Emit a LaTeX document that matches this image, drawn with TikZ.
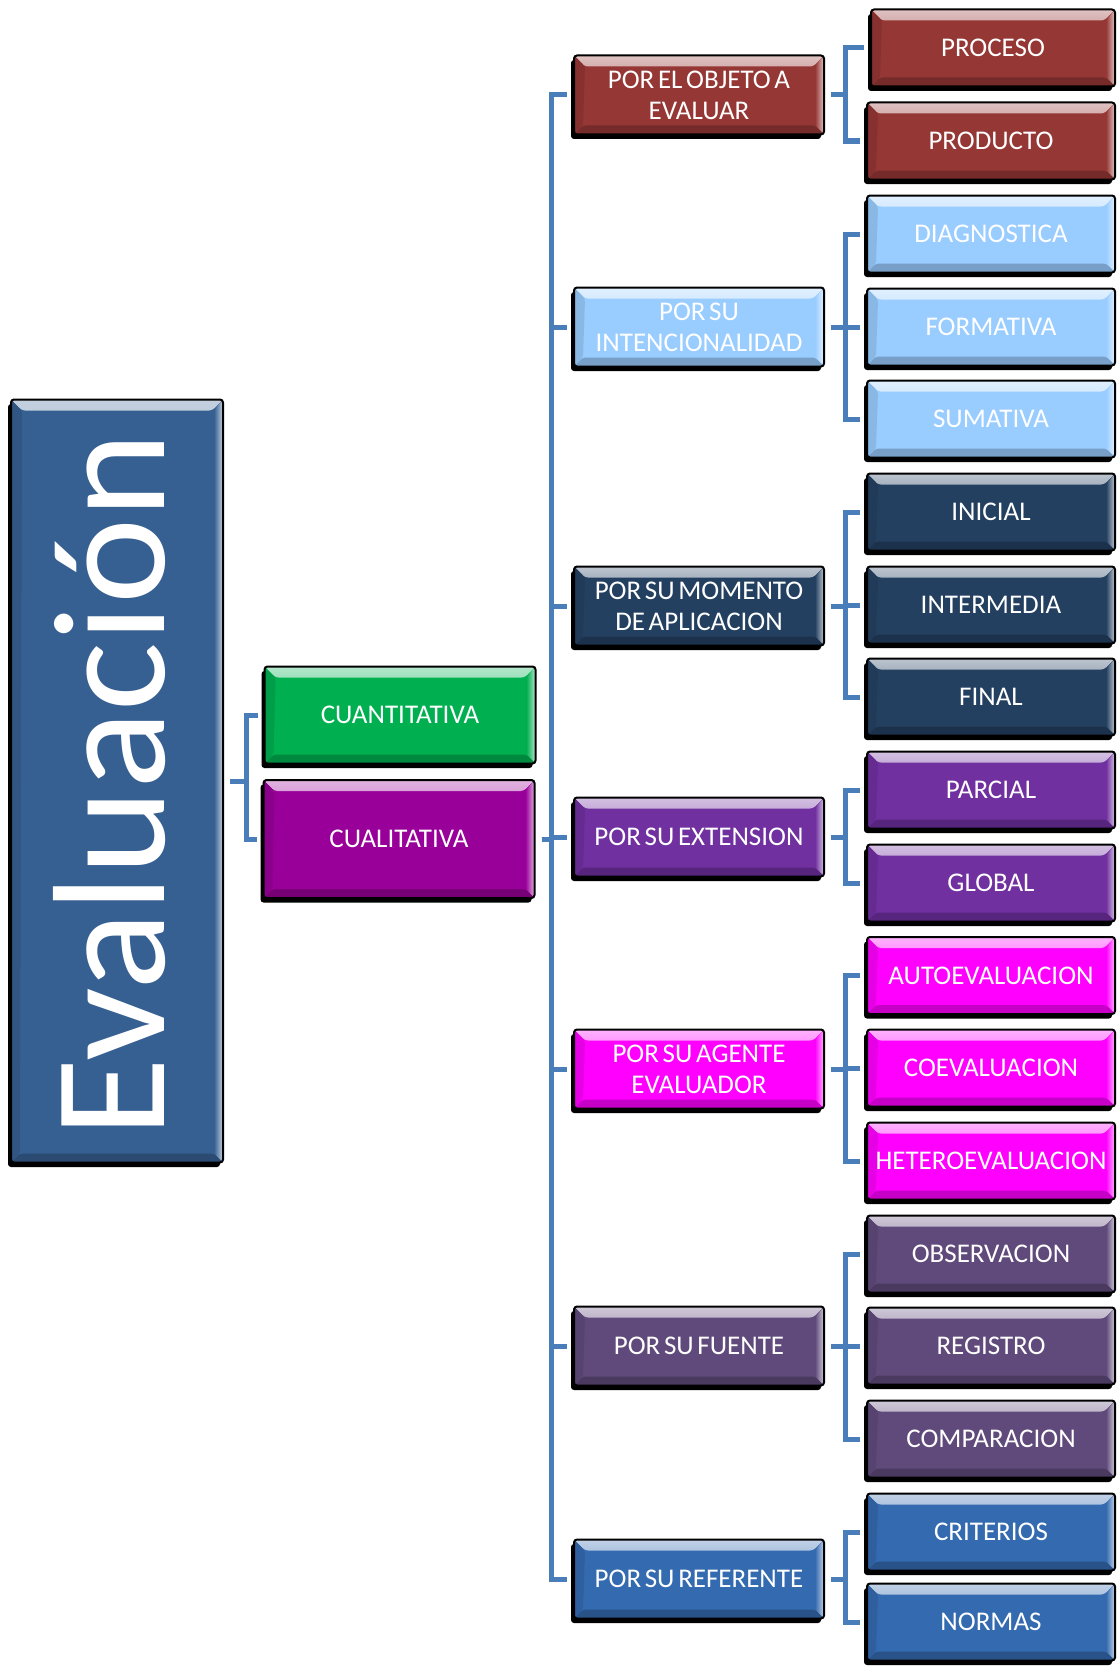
\documentclass[tikz,border=0pt]{standalone}
\usepackage{fontspec}
\usetikzlibrary{shadows}
\newfontfamily\boxfont[WordSpace=0.6]{Carlito}
\newfontfamily\bigfont[FakeStretch=1.02]{Carlito}
\definecolor{linkblue}{RGB}{74,126,187}
\definecolor{cEval}{RGB}{55,96,146}
\definecolor{cGreen}{RGB}{0,176,80}
\definecolor{cCual}{RGB}{153,0,153}
\definecolor{cRed}{RGB}{149,55,53}
\definecolor{cLight}{RGB}{153,204,255}
\definecolor{cNavy}{RGB}{36,64,97}
\definecolor{cPurple}{RGB}{112,48,160}
\definecolor{cMag}{RGB}{255,0,255}
\definecolor{cGrape}{RGB}{96,74,123}
\definecolor{cBlue}{RGB}{52,106,175}
\tikzset{
  bevel/.style={path picture={
    \shade[top color=#1!30!white, bottom color=#1]
      (path picture bounding box.north west) -- (path picture bounding box.north east)
      -- ([xshift=-11pt,yshift=-11pt]path picture bounding box.north east)
      -- ([xshift=11pt,yshift=-11pt]path picture bounding box.north west) -- cycle;
    \shade[left color=#1, right color=#1!30!white]
      (path picture bounding box.north east) -- (path picture bounding box.south east)
      -- ([xshift=-9pt,yshift=9pt]path picture bounding box.south east)
      -- ([xshift=-9pt,yshift=-11pt]path picture bounding box.north east) -- cycle;
    \fill[#1!78!black]
      (path picture bounding box.south west) -- (path picture bounding box.south east)
      -- ([xshift=-9pt,yshift=9pt]path picture bounding box.south east)
      -- ([xshift=9pt,yshift=9pt]path picture bounding box.south west) -- cycle;
    \fill[#1!90!black]
      (path picture bounding box.south west) -- (path picture bounding box.north west)
      -- ([xshift=11pt,yshift=-11pt]path picture bounding box.north west)
      -- ([xshift=9pt,yshift=9pt]path picture bounding box.south west) -- cycle;
  }},
  box/.style={draw=black, line width=2pt, rounded corners=3pt, fill=#1, bevel=#1,
    text=white, align=center, inner sep=0pt,
    font={\boxfont\fontsize{27pt}{31pt}\selectfont},
    drop shadow={shadow xshift=-3pt, shadow yshift=-4.5pt, fill=black, opacity=1}},
  rbox/.style={box=#1, minimum width=248pt, minimum height=77pt},
  mbox/.style={box=#1, minimum width=250pt, minimum height=79pt},
  link/.style={draw=linkblue, line width=5pt, shorten <=6pt, shorten >=6pt},
}
\begin{document}
\begin{tikzpicture}[x=1pt,y=-1pt]
\fill[white] (0,0) rectangle (1119,1667);
\useasboundingbox (0,0) rectangle (1119,1667);

% root
\node[box=cEval, minimum width=212pt, minimum height=763pt] (eval) at (117,781) {};
\node[rotate=90, anchor=base west, inner sep=0pt, text=white,
      font={\bigfont\fontsize{160pt}{160pt}\selectfont}] (evaltext) at (164,1138) {Evaluación};

% second level
\node[box=cGreen, minimum width=271pt, minimum height=97pt] (cuan) at (400,715) {CUANTITATIVA};
\node[box=cCual, minimum width=271pt, minimum height=118pt] (cual) at (399,839) {CUALITATIVA};

% third level
\node[mbox=cRed]    (objeto)    at (699,95)   {POR EL OBJETO A\\EVALUAR};
\node[mbox=cLight]  (intenc)    at (699,327)  {POR SU\\INTENCIONALIDAD};
\node[mbox=cNavy]   (momento)   at (699,606)  {POR SU MOMENTO\\DE APLICACION};
\node[mbox=cPurple] (extension) at (699,837)  {POR SU EXTENSION};
\node[mbox=cMag]    (agente)    at (699,1069) {POR SU AGENTE\\EVALUADOR};
\node[mbox=cGrape]  (fuente)    at (699,1346) {POR SU FUENTE};
\node[mbox=cBlue]   (referente) at (699,1579) {POR SU REFERENTE};

% fourth level
\node[rbox=cRed, minimum width=244pt] (proceso) at (993,48) {PROCESO};
\node[rbox=cRed]    (producto) at (991,141)  {PRODUCTO};
\node[rbox=cLight]  (diag)     at (991,234)  {DIAGNOSTICA};
\node[rbox=cLight]  (form)     at (991,327)  {FORMATIVA};
\node[rbox=cLight]  (suma)     at (991,419)  {SUMATIVA};
\node[rbox=cNavy]   (ini)      at (991,512)  {INICIAL};
\node[rbox=cNavy]   (inter)    at (991,605)  {INTERMEDIA};
\node[rbox=cNavy]   (fin)      at (991,697)  {FINAL};
\node[rbox=cPurple] (parcial)  at (991,790)  {PARCIAL};
\node[rbox=cPurple] (global)   at (991,883)  {GLOBAL};
\node[rbox=cMag]    (auto)     at (991,975.5) {AUTOEVALUACION};
\node[rbox=cMag]    (coev)     at (991,1068) {COEVALUACION};
\node[rbox=cMag]    (hetero)   at (991,1161) {HETEROEVALUACION};
\node[rbox=cGrape]  (obs)      at (991,1254) {OBSERVACION};
\node[rbox=cGrape]  (reg)      at (991,1346) {REGISTRO};
\node[rbox=cGrape]  (comp)     at (991,1439) {COMPARACION};
\node[rbox=cBlue]   (crit)     at (991,1532) {CRITERIOS};
\node[rbox=cBlue]   (normas)   at (991,1622) {NORMAS};

% connectors: root
\foreach \c in {cuan,cual}
  \draw[link] (eval.east) -- ++(22,0) |- (\c.west);
% connectors: second level
\foreach \c in {objeto,intenc,momento,extension,agente,fuente,referente}
  \draw[link] (cual.east) -- ++(16,0) |- (\c.west);
% connectors: third level
\foreach \p/\c in {objeto/proceso,objeto/producto,
                   intenc/diag,intenc/form,intenc/suma,
                   momento/ini,momento/inter,momento/fin,
                   extension/parcial,extension/global,
                   agente/auto,agente/coev,agente/hetero,
                   fuente/obs,fuente/reg,fuente/comp,
                   referente/crit,referente/normas}
  \draw[link] (\p.east) -- ++(20,0) |- (\c.west);
\end{tikzpicture}
\end{document}
